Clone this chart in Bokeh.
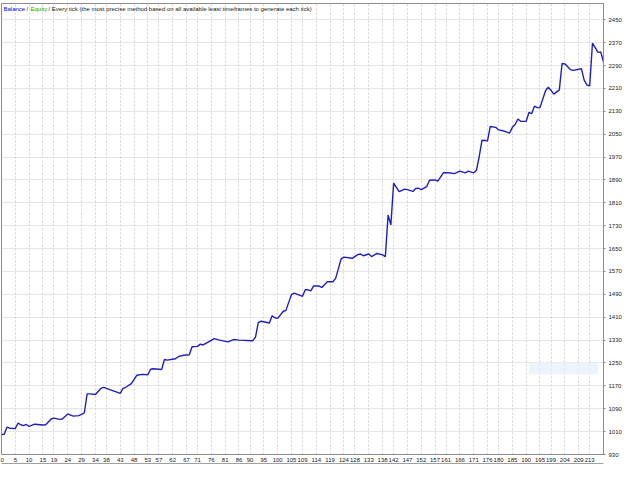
from bokeh.plotting import figure
from bokeh.models import Range1d, FixedTicker, LinearAxis, Label, BoxAnnotation, ColumnDataSource
from bokeh.embed import file_html
from bokeh.resources import INLINE

# Trade number and account balance
trades = [0, 1, 2, 3, 5, 6, 7, 8, 9, 10, 12, 15, 16, 18, 19, 21, 22, 24, 25, 26,
          28, 29, 30, 31, 32, 34, 36, 37, 39, 43, 44, 45, 47, 49, 51, 53, 54, 55, 58, 59,
          60, 63, 64, 66, 68, 69, 71, 72, 73, 75, 77, 79, 82, 84, 86, 91, 92, 93, 94, 97,
          98, 99, 100, 102, 103, 105, 106, 109, 110, 111, 112, 113, 115, 116, 118, 120, 121, 123, 124, 127,
          129, 130, 131, 133, 134, 136, 138, 139, 140, 141, 142, 144, 146, 147, 149, 150, 151, 152, 154, 155,
          157, 158, 160, 162, 164, 166, 168, 169, 171, 172, 173, 174, 176, 177, 179, 180, 182, 184, 185, 186,
          187, 188, 190, 191, 192, 193, 194, 195, 197, 198, 199, 200, 202, 203, 204, 206, 207, 210, 211, 212,
          213, 214, 215, 216, 217, 218]
balance = [1000, 1001, 1026, 1022, 1021, 1040, 1034, 1031, 1035, 1028, 1036, 1033, 1034, 1054, 1057, 1053, 1054, 1072, 1068, 1064,
           1066, 1070, 1076, 1142, 1142, 1140, 1161, 1165, 1158, 1144, 1161, 1165, 1178, 1207, 1210, 1209, 1228, 1230, 1227, 1262,
           1260, 1265, 1272, 1277, 1279, 1307, 1308, 1316, 1313, 1324, 1335, 1330, 1324, 1332, 1330, 1328, 1341, 1392, 1396, 1390,
           1415, 1408, 1406, 1430, 1434, 1489, 1494, 1483, 1506, 1506, 1502, 1519, 1519, 1514, 1534, 1534, 1546, 1614, 1620, 1616,
           1629, 1631, 1625, 1631, 1622, 1633, 1628, 1622, 1767, 1733, 1879, 1849, 1858, 1856, 1850, 1860, 1861, 1856, 1867, 1889,
           1890, 1886, 1915, 1915, 1912, 1921, 1915, 1921, 1915, 1924, 1972, 2029, 2027, 2077, 2074, 2065, 2061, 2054, 2074, 2084,
           2103, 2095, 2095, 2126, 2122, 2148, 2143, 2143, 2202, 2214, 2203, 2190, 2205, 2297, 2296, 2276, 2273, 2279, 2239, 2222,
           2219, 2368, 2353, 2336, 2338, 2302]

x_tick_values = [0, 5, 10, 15, 19, 24, 29, 34, 38, 43, 48, 53, 57, 62, 67, 71, 76, 81, 86, 90,
                 95, 100, 105, 109, 114, 119, 124, 128, 133, 138, 142, 147, 152, 157, 161, 166, 171, 176, 180, 185,
                 190, 195, 199, 204, 209, 213]
y_tick_values = [930, 1010, 1090, 1170, 1250, 1330, 1410, 1490, 1570, 1650, 1730, 1810, 1890, 1970,
                 2050, 2130, 2210, 2290, 2370, 2450]

legend_parts = ["Balance", "/", "Equity",
                "/ Every tick (the most precise method based on all available least timeframes to generate each tick)"]
legend_colors = ["#0000ff", "#202020", "#00b000", "#202020"]
legend_offsets = [2, 25, 29, 47]

FONT = "Liberation Sans"

p = figure(width=624, height=464, output_backend="svg", toolbar_location=None,
           x_range=Range1d(0, 218), y_range=Range1d(930, 2507),
           y_axis_location="right",
           min_border_left=1, min_border_top=3, min_border_right=0, min_border_bottom=0,
           background_fill_color="white", border_fill_color="white")
p.outline_line_color = "#8c8c8c"
p.outline_line_width = 1

# faint watermark box
p.add_layout(BoxAnnotation(left=191, right=216, bottom=1211, top=1252,
                           fill_color="#e6effb", fill_alpha=0.7, line_color=None, level="underlay"))

src = ColumnDataSource(dict(x=trades, y=balance))
p.line("x", "y", source=src, line_color="#1f1fc0", line_width=1.4)

# axes
for ax, ticks in ((p.xaxis, x_tick_values), (p.yaxis, y_tick_values)):
    ax.ticker = FixedTicker(ticks=ticks)
    ax.major_label_text_font = FONT
    ax.major_label_text_font_size = "6px"
    ax.major_label_text_color = "#202020"
    ax.axis_line_color = "#8c8c8c"
    ax.minor_tick_line_color = None
    ax.major_tick_in = 0
p.yaxis.major_tick_out = 2
p.yaxis.major_tick_line_color = "#8c8c8c"
p.yaxis.major_label_standoff = 3
p.xaxis.major_tick_out = 0
p.xaxis.major_tick_line_color = None
p.xaxis.major_label_standoff = 3

# bottom tab strip
tab_axis = LinearAxis(ticker=FixedTicker(ticks=[]), major_tick_line_color=None,
                      minor_tick_line_color=None, major_label_text_font_size="0px",
                      major_label_standoff=0, axis_line_color="#a0a0a0", axis_line_width=3)
p.add_layout(tab_axis, "below")

# grid
p.xgrid.ticker = FixedTicker(ticks=x_tick_values)
p.ygrid.ticker = FixedTicker(ticks=y_tick_values)
p.xgrid.grid_line_color = "#d4d4d4"
p.xgrid.grid_line_dash = "2 2"
p.ygrid.grid_line_color = "#cccccc"
p.ygrid.grid_line_dash = "1 1"

# header legend text
for txt, col, off in zip(legend_parts, legend_colors, legend_offsets):
    p.add_layout(Label(x=0, y=2507, x_offset=off, y_offset=-2, text=txt, text_color=col,
                       text_font=FONT, text_font_size="6px", text_baseline="top"))

open("out.html", "w").write(file_html(p, INLINE))
